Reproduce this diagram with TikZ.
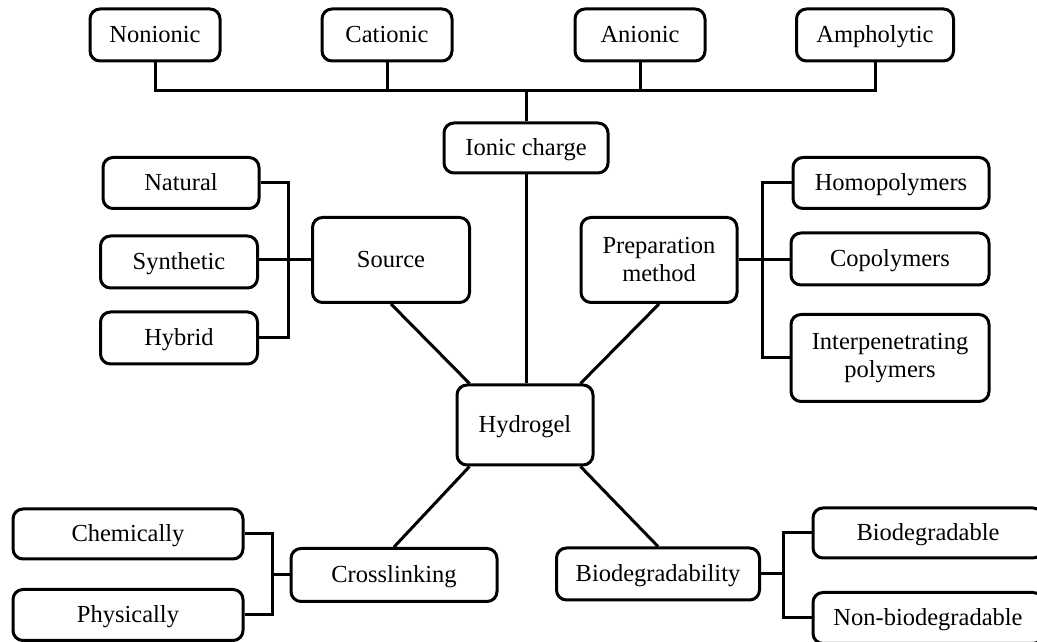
\documentclass[tikz,border=0pt]{standalone}
\usepackage{fontspec}
\setmainfont{Liberation Serif}

\begin{document}
\begin{tikzpicture}[x=1pt,y=1pt,line width=3pt,line join=miter,
  boite/.style={draw,rounded corners=10pt,align=center,inner sep=0pt,
    font=\fontsize{24.5}{28}\selectfont},
  ligne/.style={boite,text height=20pt,text depth=4pt}]

\useasboundingbox (0,0) rectangle (1037,642);
\clip (0,0) rectangle (1037,642);

    %Position des barres de liaison
    \coordinate (bus) at (0,551);
    \coordinate (srcbar) at (288,0);
    \coordinate (prepbar) at (762,0);
    \coordinate (crossbar) at (272,0);
    \coordinate (biobar) at (783,0);

% charge ionique
\node[ligne,minimum width=130,minimum height=52] (nonionic) at (155,607) {Nonionic};
\node[ligne,minimum width=130,minimum height=52] (cationic) at (387,607) {Cationic};
\node[ligne,minimum width=130,minimum height=52] (anionic) at (640,607) {Anionic};
\node[ligne,minimum width=157,minimum height=52] (ampholytic) at (875,607) {Ampholytic};
\node[ligne,minimum width=164,minimum height=50] (ionic) at (526,494) {Ionic charge};

% source
\node[ligne,minimum width=156,minimum height=51] (natural) at (181,459) {Natural};
\node[ligne,minimum width=157,minimum height=52] (synthetic) at (179,380) {Synthetic};
\node[ligne,minimum width=157,minimum height=52] (hybrid) at (179,304) {Hybrid};
\node[ligne,minimum width=157,minimum height=85] (source) at (391,382) {Source};

% methode de preparation
\node[boite,minimum width=156,minimum height=85] (prep) at (659,382) {Preparation\\method};
\node[ligne,minimum width=196,minimum height=51] (homo) at (891,459) {Homopolymers};
\node[ligne,minimum width=198,minimum height=52] (copo) at (890,383) {Copolymers};
\node[boite,minimum width=198,minimum height=87] (inter) at (890,284) {Interpenetrating\\polymers};

% centre
\node[ligne,minimum width=136,minimum height=80] (hydrogel) at (525,217) {Hydrogel};

% reticulation
\node[ligne,minimum width=230,minimum height=50] (chem) at (128,108) {Chemically};
\node[ligne,minimum width=230,minimum height=51] (phys) at (128,27) {Physically};
\node[ligne,minimum width=206,minimum height=53] (cross) at (394,67) {Crosslinking};

% biodegradabilite
\node[ligne,minimum width=203,minimum height=52] (biodeg) at (658,68) {Biodegradability};
\node[ligne,minimum width=230,minimum height=50] (bioyes) at (928,109) {Biodegradable};
\node[ligne,minimum width=230,minimum height=51] (biono) at (928,24) {Non-biodegradable};

% liaisons charge ionique
\draw (nonionic.south) -- (nonionic.south |- bus) -- (ampholytic.south |- bus) -- (ampholytic.south);
\foreach \n in {cationic,anionic}{\draw (\n.south) -- (\n.south |- bus);}
\draw (ionic.north) -- (ionic.north |- bus);
\draw (ionic.south) -- (ionic.south |- hydrogel.north);

% liaisons source
\draw (natural.east) -| (srcbar |- hybrid.east) -- (hybrid.east);
\draw (source.west) -- (source.west -| synthetic.east);
\draw (source.south) -- ([xshift=14pt]hydrogel.north west);

% liaisons preparation
\draw (homo.west) -| (prepbar |- inter.west) -- (inter.west);
\draw (prep.east) -- (prep.east -| copo.west);
\draw (prep.south) -- ([xshift=-14pt]hydrogel.north east);

% liaisons reticulation
\draw (chem.east) -| (crossbar |- phys.east) -- (phys.east);
\draw (cross.west) -- (cross.west -| crossbar);
\draw ([xshift=14pt]hydrogel.south west) -- (cross.north);

% liaisons biodegradabilite
\draw (bioyes.west) -| (biobar |- biono.west) -- (biono.west);
\draw (biodeg.east) -- (biodeg.east -| biobar);
\draw ([xshift=-14pt]hydrogel.south east) -- (biodeg.north);

\end{tikzpicture}
\end{document}
